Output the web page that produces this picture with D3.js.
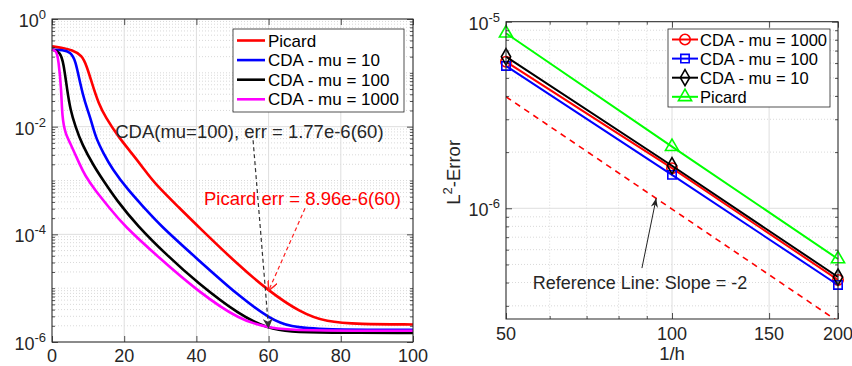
<!DOCTYPE html>
<html>
<head>
<meta charset="utf-8">
<script src="https://cdn.jsdelivr.net/npm/d3@7"></script>
<style>
  body { margin: 0; background: #fff; }
  svg { display: block; font-family: "Liberation Sans", Arial, Helvetica, sans-serif; }
</style>
</head>
<body>
<svg id="chart" width="852" height="366"></svg>
<script>
// ---- left panel: error vs iteration ----
const picardIter = [0, 3, 5.5, 8.3, 9.7, 11.1, 12.9, 14.8, 18.4, 22.2, 25.4, 28.5, 35.5, 40.1, 52.1, 60, 68.7, 76, 85, 100];
const picardErr  = [0.31, 0.29, 0.265, 0.214, 0.129, 0.063, 0.0269, 0.0151, 6.46e-3, 3.16e-3, 1.66e-3, 8.7e-4, 3.0e-4, 1.48e-4, 2.5e-5, 8.96e-6, 3.55e-6, 2.34e-6, 2.14e-6, 2.12e-6];
const mu10Iter   = [0, 3, 5.1, 6.5, 7.8, 9.2, 10.6, 12.0, 14.3, 16.6, 21.1, 25.8, 29.9, 40.1, 52.1, 60.4, 65.9, 75, 100];
const mu10Err    = [0.27, 0.265, 0.245, 0.174, 0.063, 0.0269, 0.0151, 6.46e-3, 3.16e-3, 1.66e-3, 6.6e-4, 3.0e-4, 1.48e-4, 3.55e-5, 6.8e-6, 2.7e-6, 1.9e-6, 1.7e-6, 1.69e-6];
const mu100Iter  = [0, 2.3, 3.2, 4.2, 5.1, 6.5, 8.3, 11.5, 14.2, 17.9, 23.5, 31.8, 40.1, 52.1, 60, 66, 75, 100];
const mu100Err   = [0.27, 0.245, 0.151, 0.048, 0.0204, 0.01, 4.7e-3, 1.9e-3, 1.0e-3, 4.3e-4, 1.48e-4, 4.1e-5, 1.29e-5, 3.1e-6, 1.77e-6, 1.55e-6, 1.48e-6, 1.48e-6];
const mu1000Iter = [0, 1.2, 1.8, 2.6, 2.8, 3.7, 5.1, 7.8, 9.1, 11.9, 16.1, 19.8, 29.9, 40.1, 52.1, 60.4, 68, 100];
const mu1000Err  = [0.27, 0.26, 0.174, 0.048, 0.0151, 7.4e-3, 4.9e-3, 1.9e-3, 1.26e-3, 6.6e-4, 3.0e-4, 1.48e-4, 3.55e-5, 9.1e-6, 2.5e-6, 1.82e-6, 1.62e-6, 1.62e-6];
const leftXTicks = [0, 20, 40, 60, 80, 100];
const leftYTicks = [1, 1e-2, 1e-4, 1e-6];
const leftNames  = ["Picard", "CDA - mu = 10", "CDA - mu = 100", "CDA - mu = 1000"];

// ---- right panel: L2 error vs 1/h ----
const meshN       = [50, 100, 200];
const errMu1000   = [6.10e-6, 1.64e-6, 4.13e-7];
const errMu100    = [5.79e-6, 1.51e-6, 3.88e-7];
const errMu10     = [6.49e-6, 1.69e-6, 4.28e-7];
const errPicard   = [8.67e-6, 2.14e-6, 5.35e-7];
const refLine     = [3.96e-6, 9.9e-7, 2.475e-7];
const rightXTicks = [50, 100, 150, 200];
const rightYTicks = [1e-5, 1e-6];
const rightNames  = ["CDA - mu = 1000", "CDA - mu = 100", "CDA - mu = 10", "Picard"];

const axisColor = "#262626";
const svg = d3.select("#chart");

function isIn(v, list) { return list.some(m => Math.abs(v / m - 1) < 1e-6); }

// inward tick marks on all four sides, using d3 axes
function frameTicks(g, x, y, w, h, xVals, yVals, xMinor, yMinor) {
  const add = (axis, vals, size, tr) => {
    g.append("g").attr("transform", tr)
      .call(axis.tickValues(vals).tickSize(size).tickSizeOuter(0).tickFormat(""))
      .call(s => s.select(".domain").remove())
      .selectAll("line").attr("stroke", axisColor).attr("stroke-width", 0.8);
  };
  add(d3.axisBottom(x), xVals, -6, `translate(0,${h})`);
  add(d3.axisTop(x), xVals, -6, "translate(0,0)");
  add(d3.axisLeft(y), yVals, -6, "translate(0,0)");
  add(d3.axisRight(y), yVals, -6, `translate(${w},0)`);
  if (xMinor) {
    add(d3.axisBottom(x), xMinor, -3, `translate(0,${h})`);
    add(d3.axisTop(x), xMinor, -3, "translate(0,0)");
  }
  if (yMinor) {
    add(d3.axisLeft(y), yMinor, -3, "translate(0,0)");
    add(d3.axisRight(y), yMinor, -3, `translate(${w},0)`);
  }
}

function grid(g, x, y, w, h, xMaj, yMaj, xMin, yMin) {
  const gg = g.append("g");
  gg.selectAll(".ymin").data(yMin || []).join("line")
    .attr("x1", 0).attr("x2", w).attr("y1", d => y(d)).attr("y2", d => y(d))
    .attr("stroke", "#cfcfcf").attr("stroke-width", 0.8).attr("stroke-dasharray", "1,2");
  gg.selectAll(".xmin").data(xMin || []).join("line")
    .attr("y1", 0).attr("y2", h).attr("x1", d => x(d)).attr("x2", d => x(d))
    .attr("stroke", "#cfcfcf").attr("stroke-width", 0.8).attr("stroke-dasharray", "1,2");
  gg.selectAll(".ymaj").data(yMaj).join("line")
    .attr("x1", 0).attr("x2", w).attr("y1", d => y(d)).attr("y2", d => y(d))
    .attr("stroke", "#dedede").attr("stroke-width", 1);
  gg.selectAll(".xmaj").data(xMaj).join("line")
    .attr("y1", 0).attr("y2", h).attr("x1", d => x(d)).attr("x2", d => x(d))
    .attr("stroke", "#dedede").attr("stroke-width", 1);
}

function powLabels(g, y, vals, xPos) {
  g.selectAll(".plab").data(vals).join("text")
    .attr("x", xPos).attr("y", d => y(d) + 8)
    .attr("text-anchor", "end").attr("font-size", 18).attr("fill", axisColor)
    .each(function (d) {
      const t = d3.select(this);
      t.append("tspan").text("10");
      t.append("tspan").attr("dy", -8).attr("font-size", 13).text(String(Math.round(Math.log10(d))));
    });
}

function legend(g, x0, y0, w, h, rows, rowH, drawSample) {
  const lg = g.append("g").attr("transform", `translate(${x0},${y0})`);
  lg.append("rect").attr("width", w).attr("height", h)
    .attr("fill", "#fff").attr("stroke", axisColor).attr("stroke-width", 0.8);
  rows.forEach((r, i) => {
    const cy = rowH.start + i * rowH.step;
    const row = lg.append("g").attr("transform", `translate(0,${cy})`);
    drawSample(row, r);
    row.append("text").attr("x", rowH.textX).attr("y", 6)
      .attr("font-size", rowH.font).attr("fill", "#000").text(r.name);
  });
}

// ================= LEFT PANEL =================
const L = { left: 52, top: 19, w: 361, h: 323 };
const gL = svg.append("g").attr("transform", `translate(${L.left},${L.top})`);
const xL = d3.scaleLinear().domain([0, 100]).range([0, L.w]);
const yL = d3.scaleLog().domain([1e-6, 1]).range([L.h, 0]);
const yLMinor = yL.ticks().filter(v => !isIn(v, leftYTicks));

grid(gL, xL, yL, L.w, L.h, leftXTicks, leftYTicks, null, yLMinor);

const leftSeries = [
  { name: leftNames[0], color: "#ff0000", pts: d3.zip(picardIter, picardErr) },
  { name: leftNames[1], color: "#0000ff", pts: d3.zip(mu10Iter, mu10Err) },
  { name: leftNames[2], color: "#000000", pts: d3.zip(mu100Iter, mu100Err) },
  { name: leftNames[3], color: "#ff00ff", pts: d3.zip(mu1000Iter, mu1000Err) }
];
const lineL = d3.line().x(d => xL(d[0])).y(d => yL(d[1])).curve(d3.curveBasis);
gL.selectAll(".curve").data(leftSeries).join("path")
  .attr("d", d => lineL(d.pts)).attr("fill", "none")
  .attr("stroke", d => d.color).attr("stroke-width", 2.6).attr("stroke-linejoin", "round");

gL.append("rect").attr("width", L.w).attr("height", L.h)
  .attr("fill", "none").attr("stroke", axisColor).attr("stroke-width", 1);
frameTicks(gL, xL, yL, L.w, L.h, leftXTicks, leftYTicks, null, yLMinor);

gL.selectAll(".xlab").data(leftXTicks).join("text")
  .attr("x", d => xL(d)).attr("y", L.h + 20).attr("text-anchor", "middle")
  .attr("font-size", 18).attr("fill", axisColor).text(d => d);
powLabels(gL, yL, leftYTicks, -6);

// annotation arrows (left)
const defs = svg.append("defs");
defs.append("marker").attr("id", "headBlack").attr("viewBox", "0 0 10 10")
  .attr("refX", 10).attr("refY", 5).attr("markerWidth", 10).attr("markerHeight", 10)
  .attr("markerUnits", "userSpaceOnUse").attr("orient", "auto")
  .append("path").attr("d", "M0,0 L10,5 L0,10 L3,5 Z").attr("fill", "#333");
defs.append("marker").attr("id", "headRed").attr("viewBox", "0 0 10 10")
  .attr("refX", 10).attr("refY", 5).attr("markerWidth", 10).attr("markerHeight", 10)
  .attr("markerUnits", "userSpaceOnUse").attr("orient", "auto")
  .append("path").attr("d", "M0,0 L10,5 L0,10").attr("fill", "none").attr("stroke", "#ff2020").attr("stroke-width", 1.4);
defs.append("marker").attr("id", "headSolid").attr("viewBox", "0 0 10 10")
  .attr("refX", 10).attr("refY", 5).attr("markerWidth", 9).attr("markerHeight", 9)
  .attr("markerUnits", "userSpaceOnUse").attr("orient", "auto")
  .append("path").attr("d", "M0,1 L10,5 L0,9 L3,5 Z").attr("fill", "#222");

gL.append("line")
  .attr("x1", xL(55.7)).attr("y1", yL(5.6e-3)).attr("x2", xL(60)).attr("y2", yL(1.77e-6))
  .attr("stroke", "#333").attr("stroke-width", 1.2).attr("stroke-dasharray", "4,3")
  .attr("marker-end", "url(#headBlack)");
gL.append("line")
  .attr("x1", xL(70.1)).attr("y1", yL(3.05e-4)).attr("x2", xL(60)).attr("y2", yL(8.96e-6))
  .attr("stroke", "#ff2020").attr("stroke-width", 1.2).attr("stroke-dasharray", "4,3")
  .attr("marker-end", "url(#headRed)");

gL.append("text").attr("x", xL(17.5)).attr("y", yL(8.3e-3) + 6.5)
  .attr("font-size", 18.5).attr("fill", "#262626").text("CDA(mu=100), err = 1.77e-6(60)");
gL.append("text").attr("x", xL(42.1)).attr("y", yL(4.7e-4) + 6.5)
  .attr("font-size", 18.5).attr("fill", "#ff0000").text("Picard err = 8.96e-6(60)");

legend(gL, 181, 10, 171, 83, leftSeries, { start: 11.5, step: 19.6, textX: 35, font: 17 }, (row, r) => {
  row.append("line").attr("x1", 4).attr("x2", 32).attr("y1", 0).attr("y2", 0)
    .attr("stroke", r.color).attr("stroke-width", 2.6);
});

// ================= RIGHT PANEL =================
const R = { left: 506, top: 21.7, w: 332, h: 297.3 };
const gR = svg.append("g").attr("transform", `translate(${R.left},${R.top})`);
const xR = d3.scaleLog().domain([50, 200]).range([0, R.w]);
const yR = d3.scaleLog().domain([2.55e-7, 1e-5]).range([R.h, 0]);
const xRMinor = xR.ticks().filter(v => !isIn(v, rightXTicks));
const yRMinor = yR.ticks().filter(v => !isIn(v, rightYTicks));

grid(gR, xR, yR, R.w, R.h, rightXTicks, rightYTicks, xRMinor, yRMinor);

gR.append("clipPath").attr("id", "clipR").append("rect").attr("width", R.w).attr("height", R.h);

const lineR = d3.line().x(d => xR(d[0])).y(d => yR(d[1]));
gR.append("path").attr("clip-path", "url(#clipR)")
  .attr("d", lineR(d3.zip(meshN, refLine))).attr("fill", "none")
  .attr("stroke", "#ff0000").attr("stroke-width", 1.6).attr("stroke-dasharray", "6,5");

const rightSeries = [
  { name: rightNames[0], color: "#ff0000", sym: d3.symbolCircle, size: 85, vals: errMu1000 },
  { name: rightNames[1], color: "#0000ff", sym: d3.symbolSquare, size: 70, vals: errMu100 },
  { name: rightNames[2], color: "#000000", sym: d3.symbolDiamond, size: 75, vals: errMu10 },
  { name: rightNames[3], color: "#00ff00", sym: d3.symbolTriangle, size: 75, vals: errPicard }
];

rightSeries.forEach(s => {
  const pts = d3.zip(meshN, s.vals);
  gR.append("path").attr("d", lineR(pts)).attr("fill", "none")
    .attr("stroke", s.color).attr("stroke-width", 2);
  gR.selectAll(null).data(pts).join("path")
    .attr("transform", d => `translate(${xR(d[0])},${yR(d[1])})`)
    .attr("d", d3.symbol(s.sym, s.size)).attr("fill", "none")
    .attr("stroke", s.color).attr("stroke-width", 1.6);
});

gR.append("rect").attr("width", R.w).attr("height", R.h)
  .attr("fill", "none").attr("stroke", axisColor).attr("stroke-width", 1);
frameTicks(gR, xR, yR, R.w, R.h, rightXTicks, rightYTicks, xRMinor, yRMinor);

gR.selectAll(".xlab").data(rightXTicks).join("text")
  .attr("x", d => xR(d)).attr("y", R.h + 21).attr("text-anchor", "middle")
  .attr("font-size", 18).attr("fill", axisColor).text(d => d);
powLabels(gR, yR, rightYTicks, -6);

gR.append("text").attr("x", xR(100)).attr("y", R.h + 41).attr("text-anchor", "middle")
  .attr("font-size", 18.5).attr("fill", axisColor).text("1/h");
const yTitle = gR.append("text").attr("transform", `translate(-46,${R.h / 2 + 2}) rotate(-90)`)
  .attr("text-anchor", "middle").attr("font-size", 18.5).attr("fill", axisColor);
yTitle.append("tspan").text("L");
yTitle.append("tspan").attr("dy", -8).attr("font-size", 13).text("2");
yTitle.append("tspan").attr("dy", 8).text("-Error");

gR.append("line")
  .attr("x1", xR(88.2)).attr("y1", yR(4.78e-7)).attr("x2", xR(93.6)).attr("y2", yR(1.13e-6))
  .attr("stroke", "#222").attr("stroke-width", 1).attr("marker-end", "url(#headSolid)");
gR.append("text").attr("x", xR(55.9)).attr("y", yR(4.0e-7) + 6.5)
  .attr("font-size", 18).attr("fill", "#262626").text("Reference Line: Slope = -2");

legend(gR, 162, 7.3, 162, 78, rightSeries, { start: 10.5, step: 19.1, textX: 32, font: 16.5 }, (row, r) => {
  row.append("line").attr("x1", 4).attr("x2", 30).attr("y1", 0).attr("y2", 0)
    .attr("stroke", r.color).attr("stroke-width", 2);
  row.append("path").attr("transform", "translate(17,0)")
    .attr("d", d3.symbol(r.sym, r.size)).attr("fill", "none")
    .attr("stroke", r.color).attr("stroke-width", 1.6);
});
</script>
</body>
</html>
